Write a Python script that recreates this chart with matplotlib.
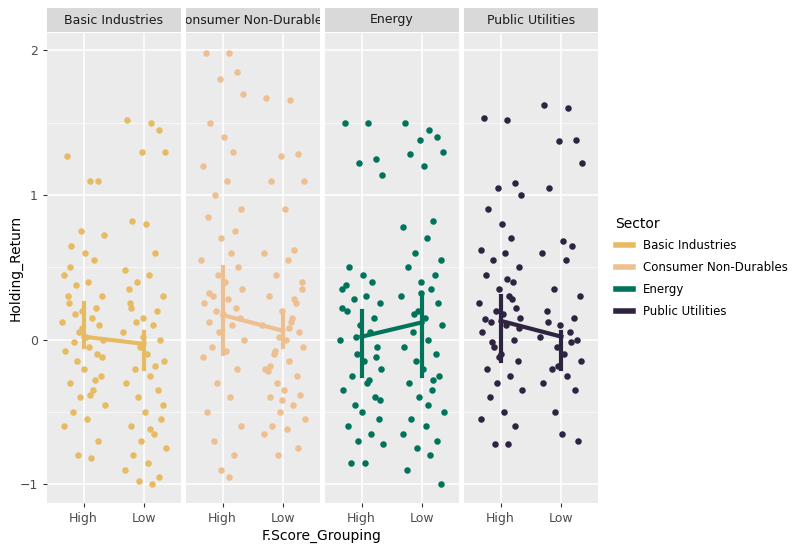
import matplotlib.pyplot as plt
from matplotlib.lines import Line2D

SECTORS = ["Basic Industries", "Consumer Non-Durables", "Energy", "Public Utilities"]
COLORS = ["#E6BB62", "#EEBF90", "#00745B", "#2E2441"]
GROUPS = ["High", "Low"]

# jitter offsets (shared, in x units)
JITTER = [-0.31, 0.12, 0.27, -0.05, 0.38, -0.22, 0.03, 0.19, -0.36, 0.08,
          -0.14, 0.33, -0.27, 0.22, -0.02, 0.15, -0.39, 0.29, -0.09, 0.05,
          0.36, -0.18, 0.1, -0.33, 0.24, -0.12, 0.01, 0.31, -0.25, 0.17,
          -0.06, 0.39, -0.2, 0.07, -0.35, 0.26, -0.1, 0.14, -0.29, 0.34,
          -0.16, 0.2, -0.03, 0.11, -0.24]

basic_high = [1.27, 1.1, 1.1, 0.75, 0.72, 0.65, 0.6, 0.55, 0.45, 0.4, 0.38, 0.3, 0.25, 0.22, 0.2,
              0.15, 0.12, 0.1, 0.05, 0.02, 0, -0.02, -0.05, -0.08, -0.1, -0.15, -0.2, -0.25, -0.3,
              -0.35, -0.4, -0.45, -0.5, -0.55, -0.6, -0.7, -0.8, -0.82, 0.3, -0.12, 0.18, -0.28,
              0.08, -0.38, 0.5]
basic_low = [1.52, 1.5, 1.45, 1.3, 1.3, 0.82, 0.8, 0.6, 0.48, 0.45, 0.4, 0.3, 0.25, 0.2, 0.15,
             0.1, 0.05, 0, -0.05, -0.1, -0.15, -0.2, -0.25, -0.3, -0.35, -0.4, -0.5, -0.55, -0.6,
             -0.65, -0.7, -0.75, -0.8, -0.85, -0.9, -0.95, -0.98, -1.0, 0.35, -0.45, 0.12, -0.18,
             0.02, -0.62, 0.22]
cons_high = [1.98, 1.98, 1.85, 1.8, 1.7, 1.5, 1.4, 1.3, 1.2, 1.1, 1.0, 0.9, 0.85, 0.75, 0.7,
             0.6, 0.55, 0.5, 0.45, 0.4, 0.35, 0.3, 0.28, 0.25, 0.22, 0.2, 0.18, 0.15, 0.12, 0.1,
             0.05, 0, -0.05, -0.08, -0.12, -0.2, -0.3, -0.4, -0.5, -0.6, -0.7, -0.8, -0.9, -0.95, 0.32]
cons_low = [1.67, 1.66, 1.28, 1.27, 1.1, 1.1, 0.9, 0.62, 0.6, 0.55, 0.45, 0.35, 0.3, 0.25, 0.2,
            0.15, 0.1, 0.05, 0.02, 0, -0.05, -0.1, -0.15, -0.2, -0.25, -0.3, -0.35, -0.38, -0.4,
            -0.45, -0.5, -0.55, -0.6, -0.62, -0.65, -0.75, -0.8, 0.12, -0.22, 0.4, -0.08, 0.28,
            -0.42, 0.08, -0.18]
energy_high = [1.5, 1.5, 1.25, 1.22, 1.14, 0.5, 0.45, 0.4, 0.35, 0.3, 0.28, 0.25, 0.2, 0.15, 0.1,
               0.05, 0, -0.05, -0.1, -0.15, -0.2, -0.25, -0.3, -0.35, -0.4, -0.45, -0.5, -0.55,
               -0.6, -0.65, -0.7, -0.72, -0.85, -0.85, 0.22, -0.12, 0.02, -0.28, 0.38, -0.42]
energy_low = [1.5, 1.45, 1.4, 1.38, 1.3, 1.28, 1.2, 0.82, 0.78, 0.7, 0.6, 0.55, 0.5, 0.45, 0.4,
              0.35, 0.3, 0.25, 0.2, 0.15, 0.1, 0.05, 0, -0.05, -0.1, -0.15, -0.2, -0.25, -0.3,
              -0.35, -0.4, -0.5, -0.55, -0.6, -0.65, -0.7, -0.75, -0.8, -0.9, -1.0, 0.18, -0.28,
              0.32, -0.45]
pub_high = [1.53, 1.52, 1.08, 1.05, 1.0, 0.9, 0.8, 0.7, 0.62, 0.6, 0.55, 0.5, 0.45, 0.4, 0.35,
            0.3, 0.25, 0.22, 0.2, 0.18, 0.15, 0.12, 0.1, 0.05, 0, -0.05, -0.1, -0.15, -0.2, -0.25,
            -0.3, -0.35, -0.4, -0.5, -0.55, -0.6, -0.72, -0.72, 0.14, 0.08, -0.02, 0.28, -0.12, 0.42]
pub_low = [1.62, 1.6, 1.38, 1.37, 1.22, 1.05, 0.68, 0.65, 0.6, 0.55, 0.35, 0.3, 0.2, 0.15, 0.1,
           0.05, 0.02, 0, -0.05, -0.1, -0.15, -0.2, -0.25, -0.3, -0.35, -0.5, -0.65, -0.7, 0.12,
           -0.02, -0.18]

POINTS = [(basic_high, basic_low), (cons_high, cons_low),
          (energy_high, energy_low), (pub_high, pub_low)]

# mean line (High -> Low) and vertical spans at each group
MEANS = [(0.02, -0.03), (0.17, 0.06), (0.02, 0.12), (0.13, 0.02)]
SPAN_LO = [(-0.05, -0.2), (-0.1, -0.05), (-0.25, -0.25), (-0.15, -0.2)]
SPAN_HI = [(0.25, 0.05), (0.5, 0.2), (0.2, 0.3), (0.3, 0.05)]

plt.rcParams["font.family"] = "DejaVu Sans"
fig = plt.figure(figsize=(8, 5.5), dpi=100)
W, H = 800, 550
left0, pw, gap = 47, 134, 5
top, bot = 33, 503

for i, s in enumerate(SECTORS):
    x0 = left0 + i * (pw + gap)
    ax = fig.add_axes([x0 / W, 1 - bot / H, pw / W, (bot - top) / H])
    ax.set_facecolor("#EBEBEB")
    for sp in ax.spines.values():
        sp.set_visible(False)
    ax.set_xlim(0.4, 2.6)
    ax.set_ylim(-1.13, 2.12)
    ax.set_xticks([1, 2], GROUPS)
    ax.set_yticks([-1, 0, 1, 2])
    ax.set_yticks([-0.5, 0.5, 1.5], minor=True)
    ax.grid(True, which="major", color="white", lw=1.1)
    ax.grid(True, which="minor", color="white", lw=0.5)
    ax.set_axisbelow(True)
    ax.tick_params(which="both", length=3, color="#333333", labelsize=9, labelcolor="#4D4D4D")
    ax.tick_params(which="minor", length=0)
    if i > 0:
        ax.tick_params(axis="y", labelleft=False, length=0)
    for g, ys in enumerate(POINTS[i]):
        xs = [g + 1 + 0.9 * JITTER[k % len(JITTER)] for k in range(len(ys))]
        ax.scatter(xs, ys, s=22, color=COLORS[i], zorder=3, linewidths=0)
        ax.plot([g + 1, g + 1], [SPAN_LO[i][g], SPAN_HI[i][g]], color=COLORS[i], lw=3, zorder=4)
    ax.plot([1, 2], MEANS[i], color=COLORS[i], lw=3, zorder=4)
    # strip
    sax = fig.add_axes([x0 / W, 1 - 32 / H, pw / W, 24 / H])
    sax.set_facecolor("#D9D9D9")
    sax.set_xticks([]); sax.set_yticks([])
    for sp in sax.spines.values():
        sp.set_visible(False)
    sax.text(0.5, 0.5, s, ha="center", va="center", fontsize=9, color="#1A1A1A",
             transform=sax.transAxes, clip_on=True)

fig.text(322 / W, 1 - 536 / H, "F.Score_Grouping", ha="center", va="center", fontsize=10)
fig.text(16 / W, 1 - 268 / H, "Holding_Return", ha="center", va="center", fontsize=10, rotation=90)

handles = [Line2D([], [], color=c, lw=4) for c in COLORS]
leg = fig.legend(handles, SECTORS, title="Sector", loc="upper left",
                 bbox_to_anchor=(605 / W, 1 - 206 / H), frameon=False, fontsize=8.5,
                 title_fontsize=10, handlelength=1.5, labelspacing=0.75)
leg._legend_box.align = "left"
fig.savefig("out.png", dpi=100)
